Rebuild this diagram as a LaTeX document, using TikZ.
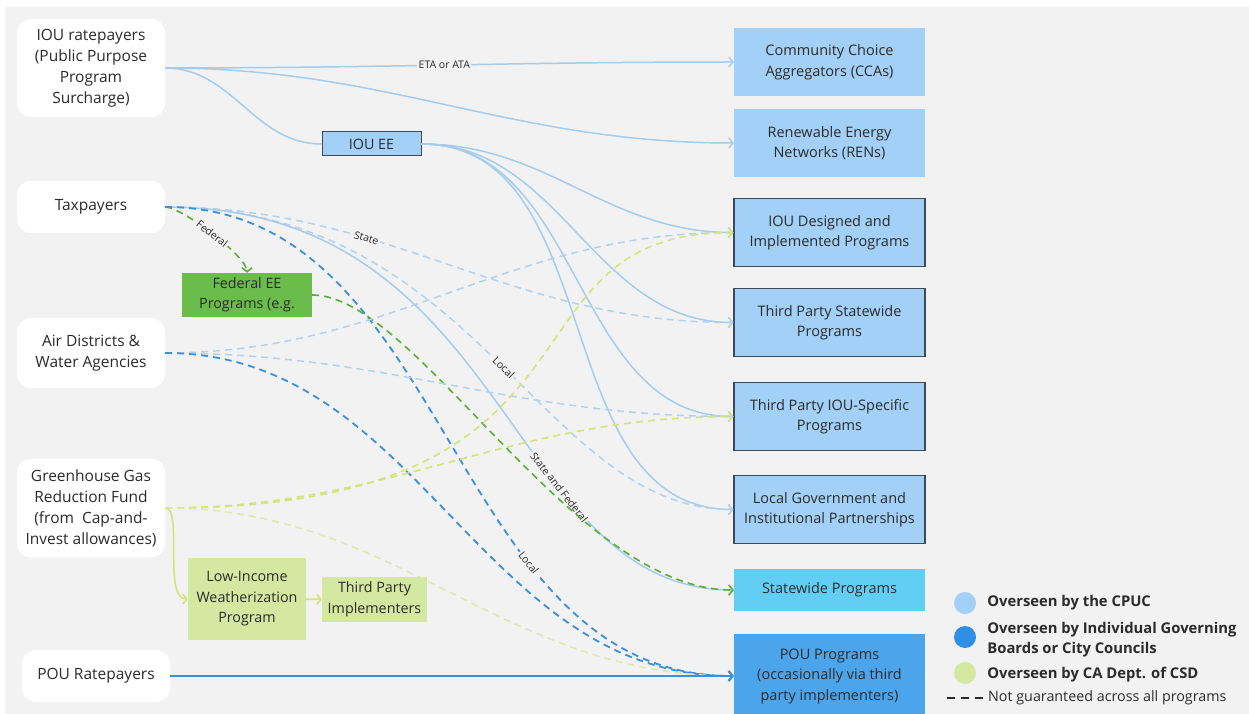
\documentclass[tikz,border=0pt]{standalone}
\usepackage{fontspec}
\setmainfont{Open Sans}
\usepackage{tikz}
\usetikzlibrary{arrows.meta,positioning}
\definecolor{bgc}{HTML}{F2F2F2}
\definecolor{txt}{HTML}{2B2B2B}
\definecolor{cpuc}{HTML}{A2D0F6}
\definecolor{edgec}{HTML}{3E4A57}
\definecolor{cpucln}{HTML}{A6CCEC}
\definecolor{cpucdsh}{HTML}{B2D2EE}
\definecolor{govln}{HTML}{3C8FDA}
\definecolor{swfill}{HTML}{62CEF4}
\definecolor{poufill}{HTML}{4CA4EA}
\definecolor{fedfill}{HTML}{6ABD4B}
\definecolor{fedln}{HTML}{5CAE3A}
\definecolor{csd}{HTML}{D4E8A2}
\definecolor{csdln}{HTML}{D3E47A}
\definecolor{csdpale}{HTML}{DDE9B2}
\definecolor{leggov}{HTML}{2F8FE5}
\tikzstyle{source} = [fill=white, rounded corners=14pt, minimum width=148pt, align=center, font=\fontsize{15.5}{21}\selectfont]
\tikzstyle{midbox} = [align=center, inner sep=2pt]
\tikzstyle{prog} = [fill=cpuc, minimum width=191pt, minimum height=68pt, align=center, font=\fontsize{14.5}{20.5}\selectfont]
\tikzstyle{framed} = [draw=edgec, line width=1.3pt]
\tikzstyle{arrowed} = [-{Straight Barb[length=4pt,width=10pt]}]
\tikzstyle{cpucline} = [draw=cpucln, line width=1.5pt]
\tikzstyle{cpucdash} = [draw=cpucdsh, line width=1.5pt, dash pattern=on 7pt off 5pt]
\tikzstyle{govdash} = [draw=govln, line width=1.8pt, dash pattern=on 7pt off 5pt]
\tikzstyle{feddash} = [draw=fedln, line width=1.6pt, dash pattern=on 7pt off 5pt]
\tikzstyle{csdline} = [draw=csdln, line width=1.6pt]
\tikzstyle{csddash} = [csdline, dash pattern=on 7pt off 5pt]
\tikzstyle{lbl} = [font=\fontsize{10.5}{12}\selectfont, fill=bgc, inner sep=1.5pt]
\tikzstyle{dot} = [circle, minimum size=22pt, inner sep=0pt]
\tikzstyle{legtext} = [font=\fontsize{14.8}{20}\selectfont\bfseries, align=left, inner sep=0pt]

\begin{document}
\begin{tikzpicture}[x=1pt, y=-1pt, text=txt, font=\fontsize{14.3}{20.5}\selectfont]
\useasboundingbox (0,0) rectangle (1249,714);
\fill[white] (0,0) rectangle (1249,714);
\fill[bgc] (5,7) rectangle (1249,714);

% funding sources
\node[source, minimum height=98pt] (iour) at (91,68) {IOU ratepayers\\(Public Purpose\\Program\\Surcharge)};
\node[source, minimum height=52pt] (tax) at (91,207) {Taxpayers};
\node[source, minimum height=70pt] (air) at (91,353) {Air Districts \&\\Water Agencies};
\node[source, minimum height=99pt] (ghg) at (91,508) {Greenhouse Gas\\Reduction Fund\\(from~ Cap-and-\\Invest allowances)};
\node[source, minimum height=52pt] (pour) at (96,676) {POU Ratepayers};

% intermediate boxes
\node[midbox, framed, fill=cpuc, line width=1pt, minimum width=99pt, minimum height=24pt] (iouee) at (371.5,144) {IOU EE};
\node[midbox, fill=fedfill, minimum width=130pt, minimum height=44pt] (fed) at (247,295) {Federal EE\\Programs (e.g.};
\node[midbox, fill=csd, minimum width=118pt, minimum height=82pt] (liw) at (247,599) {Low-Income\\Weatherization\\Program};
\node[midbox, fill=csd, minimum width=105pt, minimum height=45pt] (tpi) at (374.5,599.5) {Third Party\\Implementers};

% programs
\node[prog] (cca) at (829.5,62) {Community Choice\\Aggregators (CCAs)};
\node[prog] (ren) at (829.5,143) {Renewable Energy\\Networks (RENs)};
\node[prog, framed] (ioud) at (829.5,232.5) {IOU Designed and\\Implemented Programs};
\node[prog, framed] (tpsw) at (829.5,322.5) {Third Party Statewide\\Programs};
\node[prog, framed] (tpiou) at (829.5,416.5) {Third Party IOU-Specific\\Programs};
\node[prog, framed] (lgp) at (829.5,509.5) {Local Government and\\Institutional Partnerships};
\node[prog, fill=swfill, minimum height=42pt] (swp) at (829.5,590) {Statewide Programs};
\node[prog, fill=poufill, minimum height=84pt] (poup) at (829.5,676) {POU Programs\\(occasionally via third\\party implementers)};

% IOU ratepayers
\draw[cpucline, arrowed] (iour.east) to[out=0,in=180] node[lbl, pos=.49] {ETA or ATA} (cca.west);
\draw[cpucline, arrowed] (iour.east) to[out=0,in=180] (ren.west);
\draw[cpucline] (iour.east) to[out=0,in=180] (iouee.west);
\foreach \prg in {ioud,tpsw,tpiou,lgp}
  \draw[cpucline, arrowed] (iouee.east) to[out=0,in=180] (\prg.west);

% taxpayers
\draw[feddash, arrowed] (tax.east) to[out=0,in=90,looseness=.4] node[lbl, sloped, pos=.5] {Federal} (fed.north);
\draw[cpucdash, arrowed] (tax.east) to[out=0,in=180] node[lbl, sloped, pos=.34] {State} (tpsw.west);
\draw[cpucdash, arrowed] (tax.east) .. controls +(313,0) and +(-193,0) .. (lgp.west) node[lbl, sloped, pos=.52] {Local};
\draw[cpucline, arrowed] (tax.east) .. controls +(348,0) and +(-229,0) .. (swp.west) node[lbl, sloped, pos=.66] {State and Federal};
\draw[govdash, arrowed] (tax.east) to[out=0,in=180] node[lbl, sloped, pos=.68] {Local} (poup.west);
\draw[feddash, arrowed] (fed.east) .. controls +(104,0) and +(-162,0) .. (swp.west);

% air districts
\draw[cpucdash, arrowed] (air.east) to[out=0,in=180] (ioud.west);
\draw[cpucdash, arrowed] (air.east) to[out=0,in=180] (tpiou.west);
\draw[govdash, arrowed] (air.east) to[out=0,in=180] (poup.west);

% greenhouse gas fund
\draw[csddash, arrowed] (ghg.east) .. controls +(468,0) and +(-246,0) .. (ioud.west);
\draw[csddash, arrowed] (ghg.east) to[out=0,in=180] (tpiou.west);
\draw[csddash, draw=csdpale, arrowed] (ghg.east) to[out=0,in=180] (poup.west);
\draw[csdline, arrowed] (ghg.east) .. controls +(18,0) and +(-25,0) .. (liw.west);
\draw[csdline, arrowed] (liw) -- (tpi);

% POU ratepayers
\draw[draw=govln, line width=2pt, arrowed] (pour.east) -- (poup.west);

% legend
\node[dot, fill=cpuc] (dcpuc) at (965,603) {};
\node[legtext, right=11pt of dcpuc] (tcpuc) {Overseen by the CPUC};
\node[dot, fill=leggov] (dgov) at (965,637) {};
\node[legtext, right=11pt of dgov, yshift=-3pt] (tgov) {Overseen by Individual Governing\\Boards or City Councils};
\node[dot, fill=csd] (dcsd) at (965,673) {};
\node[legtext, right=11pt of dcsd, yshift=-2pt] (tcsd) {Overseen by CA Dept. of CSD};
\node[font=\fontsize{14.3}{16}\selectfont, anchor=west, inner sep=0pt] (tdash) at (988,698) {Not guaranteed across all programs};
\draw[txt, line width=2pt, dash pattern=on 8pt off 6pt] ([xshift=-5pt]tdash.west) -- ++(-40,0);
\end{tikzpicture}
\end{document}
